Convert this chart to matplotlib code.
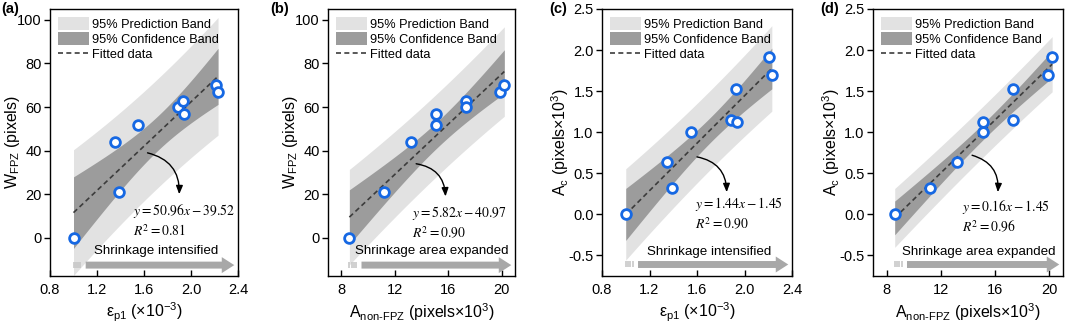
#!/usr/bin/env python3
# -*- coding: utf-8 -*-
"""Linear fits of FPZ width / crack area against strain and non-FPZ area, with 95% bands."""

import numpy as np
import matplotlib

matplotlib.use("Agg")
import matplotlib.pyplot as plt
from matplotlib.patches import Patch
from matplotlib.lines import Line2D

plt.rcParams["font.family"] = ["Liberation Sans", "DejaVu Sans"]
plt.rcParams["mathtext.fontset"] = "custom"
plt.rcParams["mathtext.rm"] = "Liberation Sans"
plt.rcParams["mathtext.it"] = "Liberation Sans:italic"
plt.rcParams["mathtext.bf"] = "Liberation Sans:bold"
plt.rcParams["axes.unicode_minus"] = False

# --- data -----------------------------------------------------------------
EPS_P1 = [1.00, 1.35, 1.39, 1.55, 1.89, 1.93, 1.94, 2.21, 2.23]          # x10^-3
W_FPZ_EPS = [0, 44, 21, 52, 60, 63, 57, 70, 67]                          # pixels
A_C_EPS = [0.00, 0.64, 0.32, 1.00, 1.15, 1.53, 1.12, 1.91, 1.70]         # pixels x10^3

A_NON_FPZ = [8.6, 11.2, 13.2, 15.1, 15.1, 17.3, 17.3, 19.9, 20.2]        # pixels x10^3
W_FPZ_A = [0, 21, 44, 57, 52, 63, 60, 67, 70]
A_C_A = [0.00, 0.32, 0.64, 1.12, 1.00, 1.53, 1.15, 1.70, 1.91]

PANEL_LABELS = ["(a)", "(b)", "(c)", "(d)"]
EQUATIONS = [r"$y = 50.96x - 39.52$", r"$y = 5.82x - 40.97$",
             r"$y = 1.44x - 1.45$", r"$y = 0.16x - 1.45$"]
R2_TEXT = [r"$R^2 = 0.81$", r"$R^2 = 0.90$", r"$R^2 = 0.90$", r"$R^2 = 0.96$"]
ARROW_TEXT = ["Shrinkage intensified", "Shrinkage area expanded",
              "Shrinkage intensified", "Shrinkage area expanded"]

XLABEL_EPS = "ε$_{\\mathrm{p1}}$ (×10$^{\\mathrm{-3}}$)"
XLABEL_A = "A$_{\\text{non-FPZ}}$ (pixels×10$^{\\mathrm{3}}$)"
YLABEL_W = "W$_{\\mathrm{FPZ}}$ (pixels)"
YLABEL_AC = "A$_{\\mathrm{c}}$ (pixels×10$^{\\mathrm{3}}$)"

T_975_DF7 = 2.365  # Student t, 95% two-sided, n-2 = 7

PRED_COLOR = "#e2e2e2"
CONF_COLOR = "#9c9c9c"
FIT_COLOR = "#3c3c3c"
MARKER_EDGE = "#1668e3"
ARROW_COLOR = "#a8a8a8"

FIG_W, FIG_H = 1065, 326
AX_BOX = [(50, 188), (328, 187), (602, 190), (873, 190)]  # left px, width px
AX_TOP, AX_BOTTOM = 9, 276
YLABEL_OFFSET = [37, 37, 42, 42]  # px from left spine to y-label centre


def fit_bands(x, y):
    x = np.asarray(x, float)
    y = np.asarray(y, float)
    slope, intercept = np.polyfit(x, y, 1)
    n = len(x)
    resid = y - (slope * x + intercept)
    s = np.sqrt(np.sum(resid ** 2) / (n - 2))
    sxx = np.sum((x - x.mean()) ** 2)
    xs = np.linspace(x.min(), x.max(), 200)
    yfit = slope * xs + intercept
    h = 1.0 / n + (xs - x.mean()) ** 2 / sxx
    conf = T_975_DF7 * s * np.sqrt(h)
    pred = T_975_DF7 * s * np.sqrt(1.0 + h)
    return xs, yfit, conf, pred


def draw_panel(fig, idx, x, y, xlim, xticks, ylim, yticks, yfmt, xlabel, ylabel,
               arrow_y, text_y, curve_from, curve_to, eq_xy):
    left, width = AX_BOX[idx]
    ax = fig.add_axes([left / FIG_W, (FIG_H - AX_BOTTOM) / FIG_H,
                       width / FIG_W, (AX_BOTTOM - AX_TOP) / FIG_H])

    xs, yfit, conf, pred = fit_bands(x, y)
    ax.fill_between(xs, yfit - pred, yfit + pred, color=PRED_COLOR, lw=0, zorder=1)
    ax.fill_between(xs, yfit - conf, yfit + conf, color=CONF_COLOR, lw=0, zorder=2)
    ax.plot(xs, yfit, color=FIT_COLOR, lw=1.2, dashes=(3, 2), zorder=3)
    ax.plot(x, y, "o", ms=7, mfc="white", mec=MARKER_EDGE, mew=2.0, zorder=5,
            clip_on=False)

    ax.set_xlim(*xlim)
    ax.set_ylim(*ylim)
    ax.set_xticks(xticks)
    ax.set_yticks(yticks)
    ax.set_yticklabels([yfmt.format(v) for v in yticks])
    ax.set_xticklabels([f"{v:g}" if isinstance(v, int) else f"{v:.1f}" for v in xticks])
    ax.tick_params(axis="x", direction="in", length=4, width=1, labelsize=10.5, pad=5)
    ax.tick_params(axis="y", direction="out", length=4, width=1, labelsize=10.5, pad=2)
    for sp in ax.spines.values():
        sp.set_linewidth(1.0)
    ax.set_xlabel(xlabel, fontsize=11.5, labelpad=3)
    ax.set_ylabel(ylabel, fontsize=11.5, va="center")
    ax.yaxis.set_label_coords(-YLABEL_OFFSET[idx] / width, 0.5)

    # legend
    handles = [Patch(facecolor=PRED_COLOR, edgecolor="none"),
               Patch(facecolor=CONF_COLOR, edgecolor="none"),
               Line2D([], [], color=FIT_COLOR, lw=1.2, dashes=(3, 2))]
    ax.legend(handles, ["95% Prediction Band", "95% Confidence Band", "Fitted data"],
              loc="upper left", frameon=False, fontsize=9.2, handlelength=2.4,
              handleheight=1.1, labelspacing=0.12, handletextpad=0.25,
              borderaxespad=0.35, borderpad=0.3)

    # bottom direction arrow with striped tail
    span = xlim[1] - xlim[0]
    x0 = min(x)
    stripe_x = x0 + np.array([0.0, 0.012, 0.024, 0.036]) * span
    ax.plot(stripe_x, [arrow_y] * len(stripe_x), ls="none", marker="|", ms=5,
            mew=1.1, color="#c4c4c4", zorder=4)
    ax.annotate("", xy=(xlim[1] - 0.005 * span, arrow_y),
                xytext=(x0 + 0.05 * span, arrow_y),
                arrowprops=dict(arrowstyle="simple,head_length=0.9,head_width=1.15,tail_width=0.5",
                                mutation_scale=10, color=ARROW_COLOR, lw=0),
                zorder=4)
    ax.text((x0 + xlim[1]) / 2, text_y, ARROW_TEXT[idx], ha="center", va="center",
            fontsize=9.6)

    # curved pointer and equation
    ax.annotate("", xy=curve_to, xytext=curve_from,
                arrowprops=dict(arrowstyle="-|>,head_length=0.5,head_width=0.2",
                                connectionstyle="arc3,rad=-0.4", color="black",
                                lw=1.0, shrinkA=0, shrinkB=0), zorder=6)
    ax.text(eq_xy[0], eq_xy[1], EQUATIONS[idx], transform=ax.transAxes,
            fontsize=9.8, math_fontfamily="stix", ha="left", va="center")
    ax.text(eq_xy[0], eq_xy[1] - 0.075, R2_TEXT[idx], transform=ax.transAxes,
            fontsize=9.8, math_fontfamily="stix", ha="left", va="center")
    return ax


def main():
    fig = plt.figure(figsize=(FIG_W / 100, FIG_H / 100), dpi=100)

    eps_lim, eps_ticks = (0.8, 2.4), [0.8, 1.2, 1.6, 2.0, 2.4]
    a_lim, a_ticks = (7, 21), [8, 12, 16, 20]
    w_lim, w_ticks = (-17.5, 105), [0, 20, 40, 60, 80, 100]
    c_lim, c_ticks = (-0.75, 2.5), [-0.5, 0.0, 0.5, 1.0, 1.5, 2.0, 2.5]

    draw_panel(fig, 0, EPS_P1, W_FPZ_EPS, eps_lim, eps_ticks, w_lim, w_ticks, "{:g}",
               XLABEL_EPS, YLABEL_W, -12.5, -6.0, (1.63, 39), (1.9, 20), (0.44, 0.245))
    draw_panel(fig, 1, A_NON_FPZ, W_FPZ_A, a_lim, a_ticks, w_lim, w_ticks, "{:g}",
               XLABEL_A, YLABEL_W, -12.5, -6.0, (13.6, 34), (15.8, 19), (0.45, 0.235))
    draw_panel(fig, 2, EPS_P1, A_C_EPS, eps_lim, eps_ticks, c_lim, c_ticks, "{:.1f}",
               XLABEL_EPS, YLABEL_AC, -0.61, -0.46, (1.6, 0.70), (1.85, 0.27), (0.49, 0.27))
    draw_panel(fig, 3, A_NON_FPZ, A_C_A, a_lim, a_ticks, c_lim, c_ticks, "{:.1f}",
               XLABEL_A, YLABEL_AC, -0.61, -0.46, (14.3, 0.72), (16.2, 0.27), (0.47, 0.26))

    for lab, px in zip(PANEL_LABELS, [1, 270, 549, 820]):
        fig.text(px / FIG_W, 1 - 9 / FIG_H, lab, fontsize=10.5, fontweight="bold",
                 ha="left", va="center")

    fig.savefig("out.png", dpi=100)
    plt.close(fig)


if __name__ == "__main__":
    main()
